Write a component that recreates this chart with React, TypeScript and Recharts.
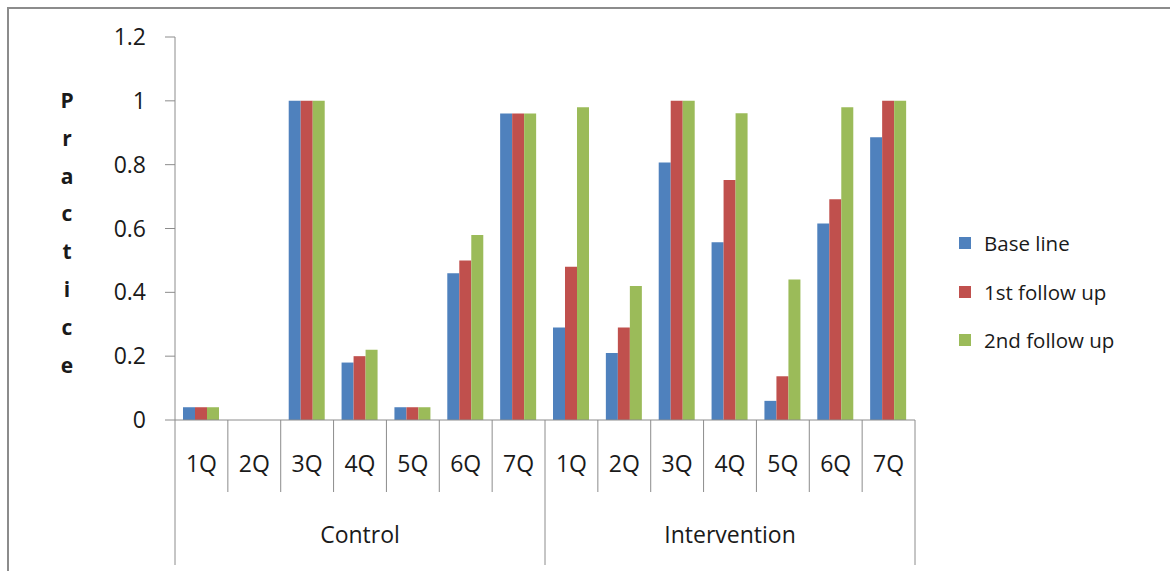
import { Bar, BarChart, XAxis, YAxis } from 'recharts'

const quarters = ['1Q', '2Q', '3Q', '4Q', '5Q', '6Q', '7Q', '1Q', '2Q', '3Q', '4Q', '5Q', '6Q', '7Q']
const groups = ['Control', 'Intervention']
const baseLine = [0.04, 0, 1, 0.18, 0.04, 0.46, 0.96, 0.29, 0.21, 0.807, 0.557, 0.06, 0.616, 0.886]
const firstFollowUp = [0.04, 0, 1, 0.2, 0.04, 0.5, 0.96, 0.48, 0.29, 1, 0.752, 0.137, 0.692, 1]
const secondFollowUp = [0.04, 0, 1, 0.22, 0.04, 0.58, 0.96, 0.98, 0.42, 1, 0.961, 0.44, 0.98, 1]
const yTicks = [0, 0.2, 0.4, 0.6, 0.8, 1, 1.2]

const series = [
    { key: 'base', name: 'Base line', color: '#4F81BD' },
    { key: 'first', name: '1st follow up', color: '#C0504D' },
    { key: 'second', name: '2nd follow up', color: '#9BBB59' },
]

const data = quarters.map((q, i) => ({
    q,
    group: groups[Math.floor(i / 7)],
    base: baseLine[i],
    first: firstFollowUp[i],
    second: secondFollowUp[i],
}))

const W = 1170
const H = 571
const MARGIN = { top: 37, right: 255, left: 0, bottom: 0 }
const Y_AXIS_W = 175
const X_AXIS_H = 151
const PLOT_W = W - MARGIN.right - Y_AXIS_W
const CELL_W = PLOT_W / quarters.length
const FONT = 'Open Sans, sans-serif'
const AXIS_FONT = 23
const AXIS_GREY = '#8c8c8c'
const TEXT = '#1a1a1a'

// two-level category axis: quarter labels in boxes, group names underneath
function GroupedTick(props: any) {
    const { x, y, payload, index } = props
    const left = x - CELL_W / 2
    const right = x + CELL_W / 2
    const y0 = y - 8
    const inGroup = index % 7
    const isLast = index === quarters.length - 1
    return (
        <g>
            <line x1={left} x2={left} y1={y0} y2={inGroup === 0 ? y0 + 145 : y0 + 72} stroke={AXIS_GREY} />
            {isLast && <line x1={right} x2={right} y1={y0} y2={y0 + 145} stroke={AXIS_GREY} />}
            <text x={x} y={y0 + 43} textAnchor="middle" dominantBaseline="central" fontSize={AXIS_FONT} fill={TEXT} fontFamily={FONT}>
                {payload.value}
            </text>
            {inGroup === 3 && (
                <text x={x} y={y0 + 114} textAnchor="middle" dominantBaseline="central" fontSize={AXIS_FONT} fill={TEXT} fontFamily={FONT}>
                    {data[index].group}
                </text>
            )}
        </g>
    )
}

function SideLegend() {
    return (
        <div style={{ position: 'absolute', left: 959, top: 219, fontFamily: FONT, fontSize: 20.5, color: TEXT }}>
            {series.map((s) => (
                <div key={s.key} style={{ display: 'flex', alignItems: 'center', height: 48.5 }}>
                    <span style={{ width: 12, height: 12, background: s.color, marginRight: 13 }} />
                    {s.name}
                </div>
            ))}
        </div>
    )
}

export default function App() {
    const letters = 'Practice'.split('')
    return (
        <div style={{ position: 'absolute', left: 0, top: 0, width: W, height: H, background: '#fff' }}>
            <div style={{ position: 'absolute', left: 7, top: 7, right: 0, bottom: 0, borderLeft: `2px solid ${AXIS_GREY}`, borderTop: `2px solid ${AXIS_GREY}` }} />
            <div style={{ position: 'absolute', left: 0, top: 0 }}>
                <BarChart width={W} height={H} data={data} margin={MARGIN} barCategoryGap={8} barGap={0}>
                    <YAxis
                        width={Y_AXIS_W}
                        domain={[0, 1.2]}
                        ticks={yTicks}
                        tickFormatter={(v: number) => String(v)}
                        tickSize={10}
                        tickMargin={19}
                        axisLine={{ stroke: AXIS_GREY }}
                        tickLine={{ stroke: AXIS_GREY }}
                        tick={{ fontSize: AXIS_FONT, fill: TEXT, fontFamily: FONT }}
                    />
                    <XAxis
                        dataKey="q"
                        height={X_AXIS_H}
                        interval={0}
                        tickLine={false}
                        axisLine={{ stroke: AXIS_GREY }}
                        tick={<GroupedTick />}
                    />
                    {series.map((s) => (
                        <Bar key={s.key} dataKey={s.key} name={s.name} fill={s.color} isAnimationActive={false} />
                    ))}
                </BarChart>
            </div>
            <SideLegend />
            <div style={{ position: 'absolute', left: 55, top: 82, width: 24, textAlign: 'center', fontFamily: FONT, fontWeight: 700, fontSize: 21, color: TEXT, lineHeight: '37.8px' }}>
                {letters.map((c, i) => (
                    <div key={i}>{c}</div>
                ))}
            </div>
        </div>
    )
}
